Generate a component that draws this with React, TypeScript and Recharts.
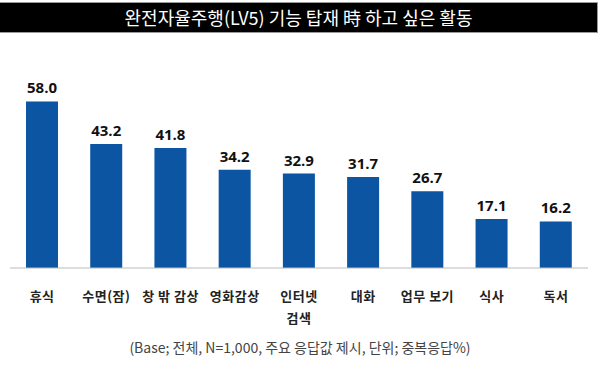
import { Bar, BarChart, LabelList, XAxis, YAxis } from "recharts";

const categories = ["휴식", "수면(잠)", "창 밖 감상", "영화감상", "인터넷\n검색", "대화", "업무 보기", "식사", "독서"];
const values = [58.0, 43.2, 41.8, 34.2, 32.9, 31.7, 26.7, 17.1, 16.2];

const data = categories.map((name, i) => ({ name, value: values[i] }));

const BAR_COLOR = "#0B55A3";
const FONT = "'Noto Sans CJK KR', 'Noto Sans', sans-serif";

function CategoryTick({ x, y, payload }: any) {
  const lines = String(payload.value).split("\n");
  return (
    <text x={x} y={y} textAnchor="middle" fill="#222" fontSize={13} fontWeight={700} fontFamily={FONT} letterSpacing={0.5}>
      {lines.map((line, i) => (
        <tspan key={i} x={x} dy={i === 0 ? 25 : 22}>
          {line}
        </tspan>
      ))}
    </text>
  );
}

export default function App() {
  return (
    <div
      style={{
        position: "absolute",
        left: 0,
        top: 0,
        width: 600,
        height: 375,
        background: "#fff",
        fontFamily: FONT,
      }}
    >
      <div
        style={{
          position: "absolute",
          left: 0,
          top: 2,
          width: 597,
          height: 29,
          background: "#000",
          borderTop: "1px solid #999",
          borderBottom: "1px solid #999",
          borderRight: "1px solid #999",
          color: "#fff",
          fontSize: 18,
          lineHeight: "29px",
          textAlign: "center",
        }}
      >
        완전자율주행(LV5) 기능 탑재 時 하고 싶은 활동
      </div>
      <BarChart
        width={600}
        height={375}
        data={data}
        margin={{ top: 67, right: 12, left: 10, bottom: 67 }}
      >
        <XAxis
          dataKey="name"
          axisLine={{ stroke: "#bbb" }}
          tickLine={false}
          interval={0}
          height={40}
          tick={<CategoryTick />}
        />
        <YAxis hide domain={[0, 70]} />
        <Bar dataKey="value" fill={BAR_COLOR} barSize={32} isAnimationActive={false}>
          <LabelList
            dataKey="value"
            position="top"
            offset={8}
            formatter={(v: any) => Number(v).toFixed(1)}
            fill="#111"
            fontSize={15}
            fontWeight={700}
            fontFamily="'Open Sans', sans-serif"
          />
        </Bar>
      </BarChart>
      <div
        style={{
          position: "absolute",
          left: 0,
          top: 337,
          width: 600,
          textAlign: "center",
          fontSize: 14,
          lineHeight: "20px",
          color: "#444",
        }}
      >
        (Base; 전체, N=1,000, 주요 응답값 제시, 단위; 중복응답%)
      </div>
    </div>
  );
}
